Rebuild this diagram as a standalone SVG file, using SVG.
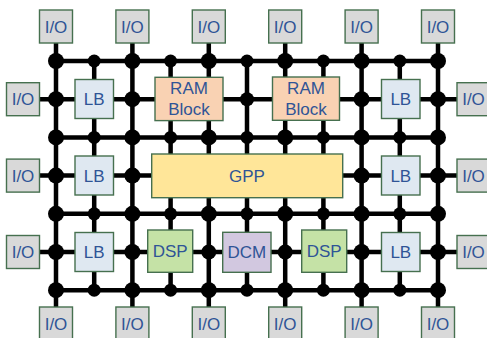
<svg xmlns="http://www.w3.org/2000/svg" width="487" height="338" viewBox="0 0 487 338">
  <style>
    .wire { stroke: #000; stroke-width: 4.5; fill: none; }
    .dot { fill: #000; }
    .blk { stroke: #46704f; stroke-width: 1.4; }
    .io { fill: #d9d9d9; }
    .lb { fill: #dfe8f1; }
    .ram { fill: #f9d2b3; }
    .gpp { fill: #ffe699; }
    .dsp { fill: #c5e2a6; }
    .dcm { fill: #d2c8e0; }
    text { font-family: "Liberation Sans", Arial, sans-serif; font-size: 17px; fill: #2f5496; text-anchor: middle; dominant-baseline: central; }
  </style>

  <!-- routing fabric: columns x = 56 + 38.2*i, rows y = 61 + 38.2*j -->
  <g id="connectors">
    <!-- routing rows -->
    <path class="wire" d="M56 61H438 M56 137.4H438 M56 213.8H438 M56 290.2H438"/>
    <!-- block rows, I/O to I/O -->
    <path class="wire" d="M39 99.2H457 M39 175.6H457 M39 252H457"/>
    <!-- columns; even columns reach the top and bottom I/O pads -->
    <path class="wire" d="M56 43V307 M132.4 43V307 M208.8 43V307 M285.2 43V307 M361.6 43V307 M438 43V307"/>
    <path class="wire" d="M94.2 61V290.2 M170.6 61V290.2 M247 61V290.2 M323.4 61V290.2 M399.8 61V290.2"/>

    <!-- junction dots -->
    <g class="dot">
      <!-- row 0 -->
      <circle cx="56" cy="61" r="8"/><circle cx="94.2" cy="61" r="6.5"/><circle cx="132.4" cy="61" r="8"/>
      <circle cx="170.6" cy="61" r="6.5"/><circle cx="208.8" cy="61" r="8"/><circle cx="247" cy="61" r="6.5"/>
      <circle cx="285.2" cy="61" r="8"/><circle cx="323.4" cy="61" r="6.5"/><circle cx="361.6" cy="61" r="8"/>
      <circle cx="399.8" cy="61" r="6.5"/><circle cx="438" cy="61" r="8"/>
      <!-- row 1 -->
      <circle cx="56" cy="99.2" r="8"/><circle cx="132.4" cy="99.2" r="8"/><circle cx="247" cy="99.2" r="7"/>
      <circle cx="361.6" cy="99.2" r="8"/><circle cx="438" cy="99.2" r="8"/>
      <!-- row 2 -->
      <circle cx="56" cy="137.4" r="8"/><circle cx="94.2" cy="137.4" r="6.5"/><circle cx="132.4" cy="137.4" r="8"/>
      <circle cx="170.6" cy="137.4" r="6.5"/><circle cx="208.8" cy="137.4" r="8"/><circle cx="247" cy="137.4" r="6.5"/>
      <circle cx="285.2" cy="137.4" r="8"/><circle cx="323.4" cy="137.4" r="6.5"/><circle cx="361.6" cy="137.4" r="8"/>
      <circle cx="399.8" cy="137.4" r="6.5"/><circle cx="438" cy="137.4" r="8"/>
      <!-- row 3 -->
      <circle cx="56" cy="175.6" r="8"/><circle cx="132.4" cy="175.6" r="8"/>
      <circle cx="361.6" cy="175.6" r="8"/><circle cx="438" cy="175.6" r="8"/>
      <!-- row 4 -->
      <circle cx="56" cy="213.8" r="8"/><circle cx="94.2" cy="213.8" r="6.5"/><circle cx="132.4" cy="213.8" r="8"/>
      <circle cx="170.6" cy="213.8" r="6.5"/><circle cx="208.8" cy="213.8" r="8"/><circle cx="247" cy="213.8" r="6.5"/>
      <circle cx="285.2" cy="213.8" r="8"/><circle cx="323.4" cy="213.8" r="6.5"/><circle cx="361.6" cy="213.8" r="8"/>
      <circle cx="399.8" cy="213.8" r="6.5"/><circle cx="438" cy="213.8" r="8"/>
      <!-- row 5 -->
      <circle cx="56" cy="252" r="8"/><circle cx="132.4" cy="252" r="8"/><circle cx="208.8" cy="252" r="7.5"/>
      <circle cx="285.2" cy="252" r="7.5"/><circle cx="361.6" cy="252" r="8"/><circle cx="438" cy="252" r="8"/>
      <!-- row 6 -->
      <circle cx="56" cy="290.2" r="8"/><circle cx="94.2" cy="290.2" r="6.5"/><circle cx="132.4" cy="290.2" r="8"/>
      <circle cx="170.6" cy="290.2" r="6.5"/><circle cx="208.8" cy="290.2" r="8"/><circle cx="247" cy="290.2" r="6.5"/>
      <circle cx="285.2" cy="290.2" r="8"/><circle cx="323.4" cy="290.2" r="6.5"/><circle cx="361.6" cy="290.2" r="8"/>
      <circle cx="399.8" cy="290.2" r="6.5"/><circle cx="438" cy="290.2" r="8"/>
    </g>
  </g>

  <!-- top I/O pads -->
  <g id="io-top-1"><rect class="blk io" x="39.5" y="10" width="33" height="33"/><text x="56" y="27">I/O</text></g>
  <g id="io-top-2"><rect class="blk io" x="115.9" y="10" width="33" height="33"/><text x="132.4" y="27">I/O</text></g>
  <g id="io-top-3"><rect class="blk io" x="192.3" y="10" width="33" height="33"/><text x="208.8" y="27">I/O</text></g>
  <g id="io-top-4"><rect class="blk io" x="268.7" y="10" width="33" height="33"/><text x="285.2" y="27">I/O</text></g>
  <g id="io-top-5"><rect class="blk io" x="345.1" y="10" width="33" height="33"/><text x="361.6" y="27">I/O</text></g>
  <g id="io-top-6"><rect class="blk io" x="421.5" y="10" width="33" height="33"/><text x="438" y="27">I/O</text></g>

  <!-- bottom I/O pads -->
  <g id="io-bot-1"><rect class="blk io" x="39.5" y="307" width="33" height="33"/><text x="56" y="324">I/O</text></g>
  <g id="io-bot-2"><rect class="blk io" x="115.9" y="307" width="33" height="33"/><text x="132.4" y="324">I/O</text></g>
  <g id="io-bot-3"><rect class="blk io" x="192.3" y="307" width="33" height="33"/><text x="208.8" y="324">I/O</text></g>
  <g id="io-bot-4"><rect class="blk io" x="268.7" y="307" width="33" height="33"/><text x="285.2" y="324">I/O</text></g>
  <g id="io-bot-5"><rect class="blk io" x="345.1" y="307" width="33" height="33"/><text x="361.6" y="324">I/O</text></g>
  <g id="io-bot-6"><rect class="blk io" x="421.5" y="307" width="33" height="33"/><text x="438" y="324">I/O</text></g>

  <!-- left I/O pads -->
  <g id="io-left-1"><rect class="blk io" x="6.5" y="82.7" width="33" height="33"/><text x="23" y="99.7">I/O</text></g>
  <g id="io-left-2"><rect class="blk io" x="6.5" y="159.1" width="33" height="33"/><text x="23" y="176.1">I/O</text></g>
  <g id="io-left-3"><rect class="blk io" x="6.5" y="235.5" width="33" height="33"/><text x="23" y="252.5">I/O</text></g>

  <!-- right I/O pads -->
  <g id="io-right-1"><rect class="blk io" x="457" y="82.7" width="33" height="33"/><text x="473.5" y="99.7">I/O</text></g>
  <g id="io-right-2"><rect class="blk io" x="457" y="159.1" width="33" height="33"/><text x="473.5" y="176.1">I/O</text></g>
  <g id="io-right-3"><rect class="blk io" x="457" y="235.5" width="33" height="33"/><text x="473.5" y="252.5">I/O</text></g>

  <!-- logic blocks -->
  <g id="lb-l1"><rect class="blk lb" x="75" y="79.5" width="38.5" height="39"/><text x="94.2" y="99.5">LB</text></g>
  <g id="lb-l2"><rect class="blk lb" x="75" y="156" width="38.5" height="39"/><text x="94.2" y="176">LB</text></g>
  <g id="lb-l3"><rect class="blk lb" x="75" y="232.5" width="38.5" height="39"/><text x="94.2" y="252.5">LB</text></g>
  <g id="lb-r1"><rect class="blk lb" x="381.5" y="79.5" width="38.5" height="39"/><text x="400.8" y="99.5">LB</text></g>
  <g id="lb-r2"><rect class="blk lb" x="381.5" y="156" width="38.5" height="39"/><text x="400.8" y="176">LB</text></g>
  <g id="lb-r3"><rect class="blk lb" x="381.5" y="232.5" width="38.5" height="39"/><text x="400.8" y="252.5">LB</text></g>

  <!-- block RAM -->
  <g id="ram-1"><rect class="blk ram" x="155" y="77.3" width="68" height="43.3"/><text x="189" y="88.5">RAM</text><text x="189" y="109.5">Block</text></g>
  <g id="ram-2"><rect class="blk ram" x="272.5" y="77" width="67" height="43.3"/><text x="306" y="88.3">RAM</text><text x="306" y="109.3">Block</text></g>

  <!-- processor -->
  <g id="gpp"><rect class="blk gpp" x="151.7" y="154" width="191" height="43.7"/><text x="247" y="176">GPP</text></g>

  <!-- DSP slices and clock manager -->
  <g id="dsp-1"><rect class="blk dsp" x="147.7" y="230" width="45" height="42.3"/><text x="170.2" y="251.5">DSP</text></g>
  <g id="dcm"><rect class="blk dcm" x="222.7" y="232.3" width="48.3" height="40"/><text x="246.9" y="252.5">DCM</text></g>
  <g id="dsp-2"><rect class="blk dsp" x="301.7" y="230" width="45" height="42.3"/><text x="324.2" y="251.5">DSP</text></g>
</svg>
